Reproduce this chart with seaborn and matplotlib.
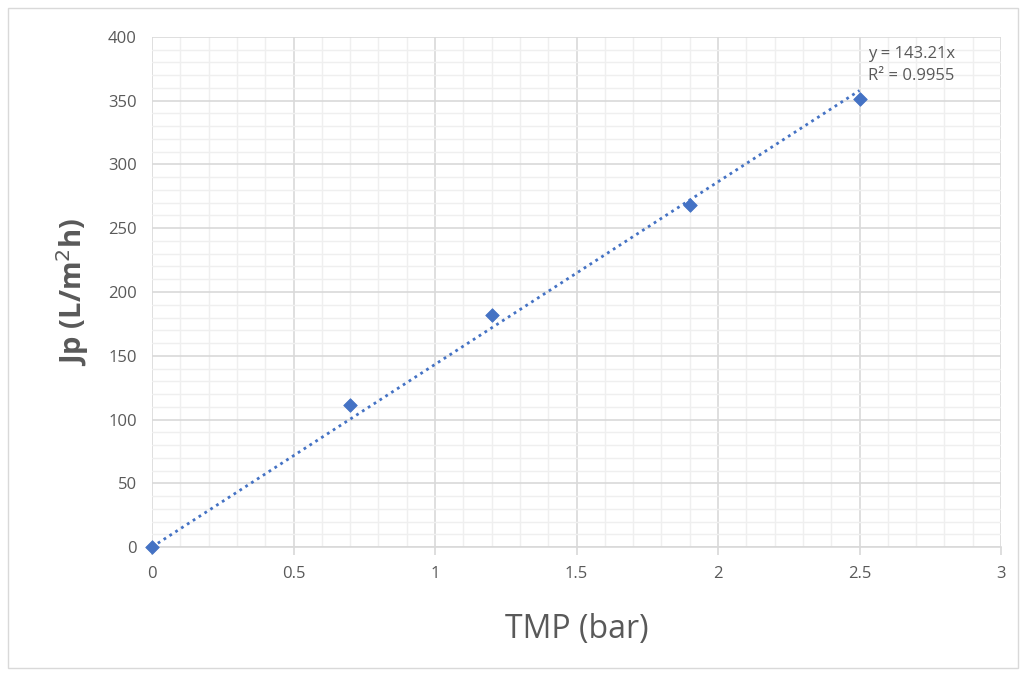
import matplotlib
matplotlib.use("Agg")
import matplotlib.pyplot as plt
import seaborn as sns
import numpy as np
import pandas as pd
from matplotlib.patches import Rectangle
from matplotlib.ticker import MultipleLocator

tmp = [0, 0.7, 1.2, 1.9, 2.5]
jp = [0, 111, 182, 268, 351]
slope = 143.21
r2 = 0.9955
x_ticks = [0, 0.5, 1, 1.5, 2, 2.5, 3]
y_ticks = [0, 50, 100, 150, 200, 250, 300, 350, 400]

sns.set_theme(style="white")
plt.rcParams['font.family'] = ['Open Sans', 'DejaVu Sans']

df = pd.DataFrame({"TMP": tmp, "Jp": jp})
fig = plt.figure(figsize=(10.25, 6.75), dpi=100)
ax = fig.add_axes([152/1025, 1-547/675, (1001-152)/1025, (547-37)/675])

fit_x = np.array([0, max(tmp)])
ax.plot(fit_x, slope*fit_x, linestyle=(0, (1, 1.5)), color="#4472C4", lw=2, zorder=3,
        clip_on=False)
sns.scatterplot(data=df, x="TMP", y="Jp", marker="D", s=48, color="#4472C4",
                edgecolor="#4472C4", ax=ax, zorder=4, clip_on=False)

ax.set_xlim(0, 3)
ax.set_ylim(0, 400)
ax.set_xticks(x_ticks)
ax.set_xticklabels([f"{t:g}" for t in x_ticks])
ax.set_yticks(y_ticks)
ax.xaxis.set_minor_locator(MultipleLocator(0.1))
ax.yaxis.set_minor_locator(MultipleLocator(10))
ax.grid(which="major", color="#D9D9D9", lw=1.2)
ax.grid(which="minor", color="#EFEFEF", lw=1.0)
ax.set_axisbelow(True)
for s in ["top", "right", "left"]:
    ax.spines[s].set_visible(False)
ax.spines["bottom"].set_color("#D9D9D9")
ax.spines["bottom"].set_linewidth(1.2)
ax.tick_params(axis="x", which="major", bottom=True, length=6, color="#D9D9D9",
               labelsize=12, labelcolor="#595959", pad=8)
ax.tick_params(axis="x", which="minor", bottom=False)
ax.tick_params(axis="y", which="both", left=False, labelsize=12, labelcolor="#595959", pad=5)

ax.set_xlabel("TMP (bar)", fontsize=23, color="#595959", labelpad=22)
ax.set_ylabel(r"Jp (L/m$^{2}$h)", fontsize=21, color="#595959", fontweight="bold", labelpad=12)

ax.text(2.53, 393, f"y = {slope}x\nR² = {r2}", fontsize=12, color="#595959",
        va="top", ha="left", linespacing=1.5)

fig.patches.append(Rectangle((8/1025, 7/675), (1018-8)/1025, (667-7)/675,
                             transform=fig.transFigure, fill=False,
                             edgecolor="#D9D9D9", lw=1))
fig.savefig("out.png", dpi=100)
